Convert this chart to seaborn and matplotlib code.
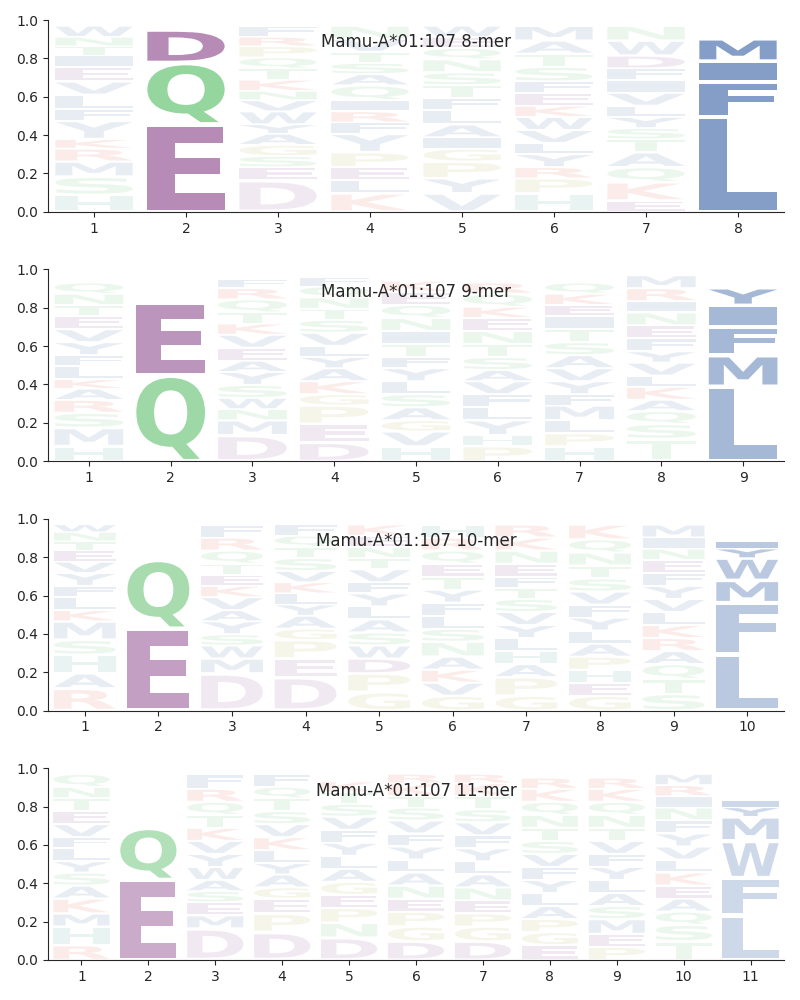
import matplotlib
matplotlib.use("Agg")
import matplotlib.pyplot as plt
import seaborn as sns
from matplotlib.textpath import TextPath
from matplotlib.patches import PathPatch
from matplotlib.font_manager import FontProperties
from matplotlib.transforms import Affine2D

sns.set_style("ticks")
plt.rcParams['font.family'] = ['DejaVu Sans']

titles = ["Mamu-A*01:107 8-mer", "Mamu-A*01:107 9-mer",
          "Mamu-A*01:107 10-mer", "Mamu-A*01:107 11-mer"]

# letters bottom->top with heights in percent
logo_8 = ["H9 S10 M8 R7 K5 Y10 F6 L8 V7 E8 I6 T5 N5 W6",
          "E47 Q33 D18",
          "D17 E7 S6 G6 A6 Y5 W7 V6 N5 K6 T6 Q6 P6 R5 F6",
          "K10 L7 E7 P8 Y10 F6 R6 I6 Q8 A6 S6 T6 V7 N7",
          "V10 Y8 P9 G7 I6 A7 L8 F6 T7 S7 N7 Q6 E6 W6",
          "H10 P8 R6 Y7 L6 V7 W7 K6 E7 F6 S8 T7 A7 M8",
          "E6 K10 Q8 A8 T7 S6 Y6 L6 V7 I7 F6 D7 W8 N8",
          "L51 F19 I11 M12"]
logo_9 = ["H8 M10 S8 R7 A6 K5 L7 F6 Y7 V7 E7 T6 N6 Q6",
          "Q46 E39",
          "D14 M8 N6 W6 S7 Y7 A6 E7 V7 K6 T6 Q7 R6 F5",
          "D10 E10 P10 G6 K7 A7 Y6 L6 V7 S7 T6 N6 Q6 F5",
          "H8 V8 G6 A7 S7 L7 Y7 F6 T7 I7 N7 Q7 E7 K6",
          "P8 H6 Y8 L7 F7 V7 A6 S7 T7 N7 E7 K6 Q7 R6",
          "H8 P7 L7 M8 F6 Y7 V7 A7 S7 T7 I7 E6 K6 Q6",
          "T12 S8 Q7 A6 K7 L6 V7 Y6 F7 E7 N7 I6 R7 M7",
          "L40 M17 F15 I12 Y9"]
logo_10 = ["R12 A8 H10 S8 M10 K6 L7 F6 Y7 V6 E6 T5 N5 W4",
           "E44 Q37",
           "D20 M8 W7 S6 Y7 A6 V7 K6 E6 T6 Q7 R7 F7",
           "D18 E10 P10 G6 A7 Y6 L6 K6 V6 S7 T6 Q6 F6",
           "G10 P10 D8 W7 S7 A7 L7 Y7 F6 V7 T6 N6 E6 K6",
           "G8 V7 K7 A7 N8 S7 L7 F7 Y7 T7 E7 Q7 R7 H7",
           "G8 P10 A7 H7 L7 Y7 V7 S7 T6 F6 E7 N7 K7 R7",
           "G8 E7 H7 P7 A7 L7 Y7 F7 V7 S7 T7 N7 Q7 K8",
           "S9 T8 Q8 A7 R7 K7 L7 V7 Y7 F7 E7 N6 I6 M7",
           "L30 F28 M12 W12 Y5 I4"]
logo_11 = ["R8 H10 M7 K8 A7 S7 Y6 L7 F6 V7 E7 T7 N6 Q7",
           "E43 Q28",
           "D17 M7 E7 S6 A6 W7 Y7 V7 K7 T7 Q7 R7 F8",
           "D15 P10 E8 G6 A7 Y6 L7 K7 V7 S7 T7 Q6 F7",
           "D12 N8 P8 E7 G7 A7 L7 Y7 F7 V7 S7 T6 K6",
           "D10 G8 P8 E7 N7 A7 L7 Y7 F7 V7 S7 T6 K7 R5",
           "D10 G8 P7 E7 N7 A7 L7 Y7 F7 V7 S7 T7 K7 R5",
           "E8 G7 P7 A7 L7 Y7 F7 V7 S7 T7 N7 Q7 K7 R6",
           "P7 E7 M8 S7 A7 L7 Y7 F7 V7 T7 N7 Q7 K7 R6",
           "T10 S9 Q7 A7 E7 K7 L7 V7 Y7 F7 N7 I6 R6 M6",
           "L24 F20 W20 M13 Y5 I4"]
logos = [logo_8, logo_9, logo_10, logo_11]

# column opacity (strong positions vs background)
alphas = [{2: 0.55, 8: 0.55}, {2: 0.5, 9: 0.4}, {2: 0.45, 10: 0.3}, {2: 0.4, 11: 0.22}]

colors = {}
for aa in "ED":
    colors[aa] = "#7b2d7b"
for aa in "QNST":
    colors[aa] = "#3fb34f"
for aa in "LFMWYIVAC":
    colors[aa] = "#1f4f9a"
for aa in "KR":
    colors[aa] = "#e04a3a"
for aa in "PG":
    colors[aa] = "#a8a030"
colors["H"] = "#2a8a7a"

fp = FontProperties(family="DejaVu Sans", weight="bold")


def draw_letter(ax, ch, x, y, h, color, alpha):
    tp = TextPath((0, 0), ch, size=1, prop=fp)
    bb = tp.get_extents()
    pad = min(0.012, h * 0.08)
    t = (Affine2D().translate(-bb.x0, -bb.y0)
         .scale(0.84 / bb.width, (h - 2 * pad) / bb.height)
         .translate(x - 0.42, y + pad))
    ax.add_patch(PathPatch(t.transform_path(tp), facecolor=color,
                           edgecolor="none", alpha=alpha))


fig, axes = plt.subplots(4, 1, figsize=(8, 10), dpi=100)
for ax, logo, title, al in zip(axes, logos, titles, alphas):
    n = len(logo)
    for pos, col in enumerate(logo, start=1):
        y = 0
        a = al.get(pos, 0.1)
        for tok in col.split():
            h = int(tok[1:]) / 100 * 0.97
            draw_letter(ax, tok[0], pos, y, h, colors[tok[0]], a)
            y += h
    ax.set_xlim(0.5, n + 0.5)
    ax.set_ylim(0, 1)
    ax.set_xticks(range(1, n + 1))
    ax.set_yticks([0, 0.2, 0.4, 0.6, 0.8, 1.0])
    ax.text(0.5, 0.93, title, transform=ax.transAxes, ha="center", va="top", fontsize=12)
    sns.despine(ax=ax)

plt.subplots_adjust(left=0.06, right=0.98, top=0.98, bottom=0.04, hspace=0.3)
fig.savefig("out.png")
